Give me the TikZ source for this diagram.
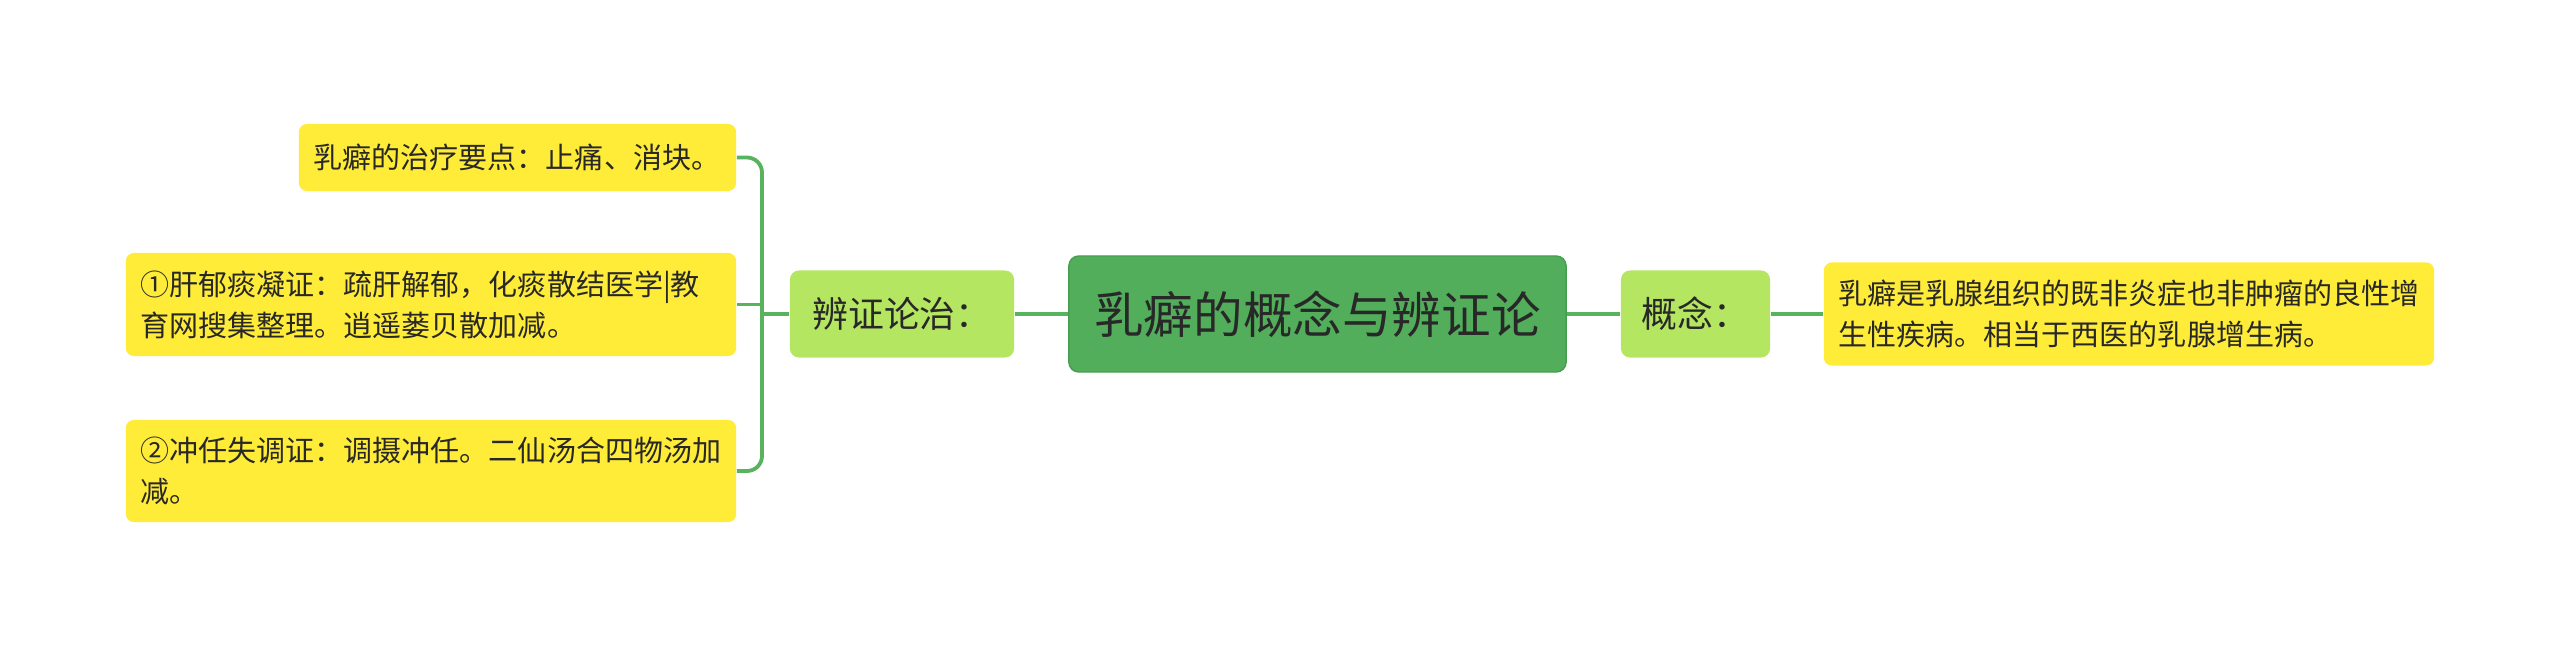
\documentclass[tikz,border=0pt]{standalone}
\usepackage{fontspec}
\setmainfont{Noto Sans CJK SC}
\definecolor{rootgreen}{RGB}{82,174,91}
\definecolor{rootedge}{RGB}{72,158,80}
\definecolor{subgreen}{RGB}{181,230,98}
\definecolor{leafyellow}{RGB}{255,236,56}
\definecolor{linkgreen}{RGB}{88,178,94}
\definecolor{inkdark}{RGB}{40,40,40}
\begin{document}
\begin{tikzpicture}[x=0.01cm, y=-0.01cm,
    link/.style={draw=linkgreen, line width=0.038cm},
    rootbox/.style={fill=rootgreen, draw=rootedge, line width=0.4pt, rounded corners=0.1cm,
        minimum width=4.97cm, minimum height=1.16cm, inner sep=0pt,
        text=inkdark, font=\fontsize{14.1}{17}\selectfont},
    subbox/.style={fill=subgreen, rounded corners=0.09cm, minimum height=0.87cm,
        inner sep=0pt, text=inkdark, font=\fontsize{10.2}{12}\selectfont},
    leafbox/.style={fill=leafyellow, rounded corners=0.08cm, inner xsep=0.15cm, inner ysep=0pt,
        align=left, text=inkdark, font=\fontsize{8.25}{11.7}\selectfont}]
\useasboundingbox (0,0) rectangle (2560,648);

% centre and first level
\node[rootbox] (root) at (1317.5,314) {乳癖的概念与辨证论};
\node[subbox, minimum width=2.24cm] (treat) at (902,314) {辨证论治：};
\node[subbox, minimum width=1.49cm] (concept) at (1695.5,314) {概念：};

% leaves
\node[leafbox, text width=4.07cm, minimum height=0.67cm] (keypt) at (517.5,157.5)
    {乳癖的治疗要点：止痛、消块。};
\node[leafbox, text width=5.80cm, minimum height=1.03cm] (liver) at (431,304.5)
    {①肝郁痰凝证：疏肝解郁，化痰散结医学|教\\育网搜集整理。逍遥蒌贝散加减。};
\node[leafbox, text width=5.80cm, minimum height=1.02cm] (chong) at (431,471)
    {②冲任失调证：调摄冲任。二仙汤合四物汤加\\减。};
\node[leafbox, text width=5.80cm, minimum height=1.03cm] (define) at (2129,314)
    {乳癖是乳腺组织的既非炎症也非肿瘤的良性增\\生性疾病。相当于西医的乳腺增生病。};

% connectors
\coordinate (hub) at (762,314);
\draw[link] (root.west) -- (treat.east);
\draw[link] (root.east) -- (concept.west);
\draw[link] (concept.east) -- (define.west);
\draw[link] (treat.west) -- (hub);
\draw[link, rounded corners=0.15cm] (hub) |- (keypt.east);
\draw[link, rounded corners=0.15cm] (hub) |- (chong.east);
\draw[link] (liver.east) -- (liver.east -| hub);
\end{tikzpicture}
\end{document}
